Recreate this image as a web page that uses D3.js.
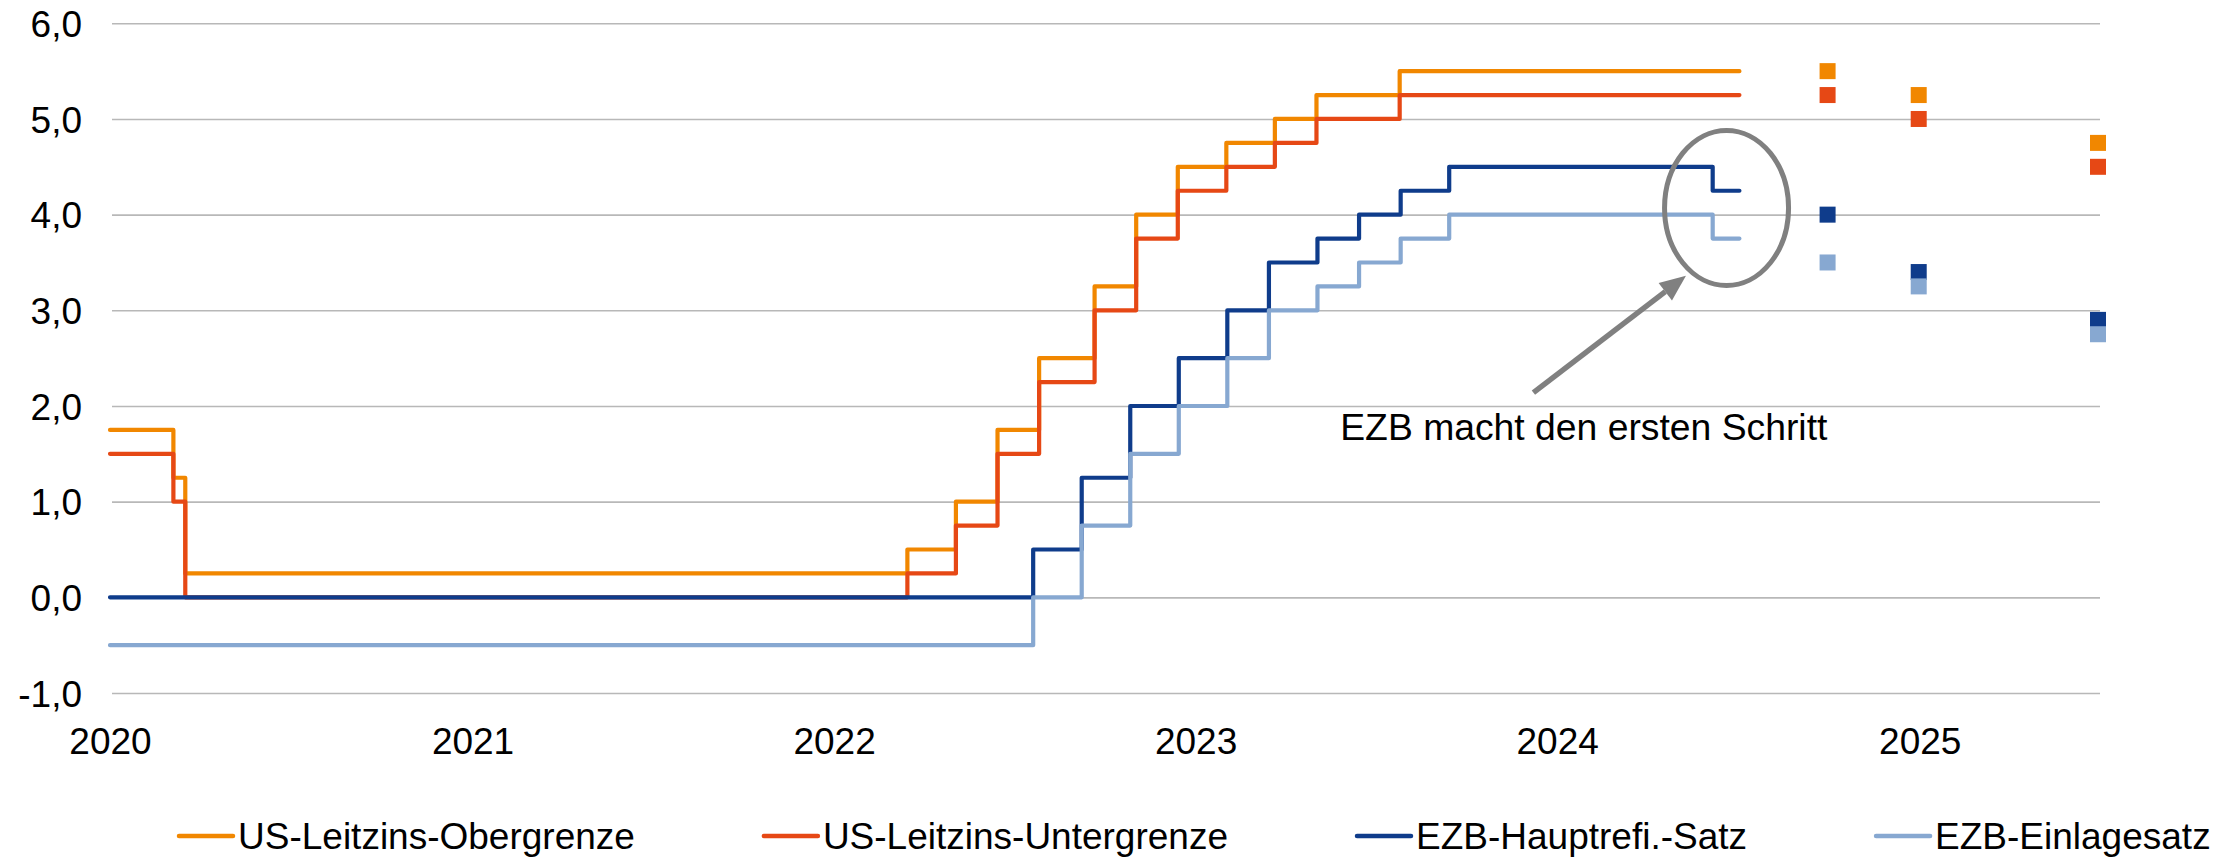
<!DOCTYPE html>
<html lang="de">
<head>
<meta charset="utf-8">
<title>Leitzinsen USA und Eurozone</title>
<script src="https://cdn.jsdelivr.net/npm/d3@7"></script>
<style>
  body { margin: 0; background: #fff; }
  text { font-family: "Liberation Sans", Arial, sans-serif; fill: #000; }
</style>
</head>
<body>
<div id="chart"></div>
<script>
// --- data ---
var seriesNames = ["US-Leitzins-Obergrenze", "US-Leitzins-Untergrenze", "EZB-Hauptrefi.-Satz", "EZB-Einlagesatz"];
var seriesColors = ["#f18700", "#e64815", "#0f3c8b", "#87a8d1"];

// Fed: Entscheidungstermine
var fedDates = ["2020-01-01", "2020-03-05", "2020-03-17", "2022-03-16", "2022-05-04", "2022-06-15",
                "2022-07-27", "2022-09-21", "2022-11-02", "2022-12-14", "2023-02-01", "2023-03-22",
                "2023-05-03", "2023-07-26"];
var fedUpper = [1.75, 1.25, 0.25, 0.5, 1.0, 1.75, 2.5, 3.25, 4.0, 4.5, 4.75, 5.0, 5.25, 5.5];
var fedLower = [1.5, 1.0, 0.0, 0.25, 0.75, 1.5, 2.25, 3.0, 3.75, 4.25, 4.5, 4.75, 5.0, 5.25];

// EZB: Ratssitzungen
var ecbDates = ["2020-01-01", "2022-07-21", "2022-09-08", "2022-10-27", "2022-12-15", "2023-02-02",
                "2023-03-16", "2023-05-04", "2023-06-15", "2023-07-27", "2023-09-14", "2024-06-06"];
var ecbMain = [0.0, 0.5, 1.25, 2.0, 2.5, 3.0, 3.5, 3.75, 4.0, 4.25, 4.5, 4.25];
var ecbDeposit = [-0.5, 0.0, 0.75, 1.5, 2.0, 2.5, 3.0, 3.25, 3.5, 3.75, 4.0, 3.75];

var lastDate = "2024-07-03";

// Prognosen
var forecastDates = ["2024-09-30", "2024-12-31", "2025-06-30"];
var fcUpper = [5.5, 5.25, 4.75];
var fcLower = [5.25, 5.0, 4.5];
var fcMain = [4.0, 3.4, 2.9];
var fcDeposit = [3.5, 3.25, 2.75];

var yearTicks = [2020, 2021, 2022, 2023, 2024, 2025];
var yTicks = [-1, 0, 1, 2, 3, 4, 5, 6];

var noteText = "EZB macht den ersten Schritt";

// --- layout ---
var w = 2239;
var h = 857;
var plotLeft = 110, plotRight = 2100, plotTop = 23.3, plotBottom = 693;

var parse = d3.timeParse("%Y-%m-%d");
var deFormat = d3.formatLocale({decimal: ",", thousands: ".", grouping: [3], currency: ["", " €"], minus: "-"}).format(".1f");

var x = d3.scaleTime()
  .domain([parse("2020-01-01"), parse("2025-06-30")])
  .range([plotLeft, plotRight - 2]);
var y = d3.scaleLinear()
  .domain([-1, 6])
  .range([plotBottom, plotTop]);

var svg = d3.select("#chart")
  .append("svg")
  .attr("width", w)
  .attr("height", h);

svg.append("rect").attr("width", w).attr("height", h).attr("fill", "#fff");

// gridlines + y labels
var yAxis = d3.axisLeft(y)
  .tickValues(yTicks)
  .tickSize(-(plotRight - plotLeft - 2))
  .tickPadding(30)
  .tickFormat(deFormat);

var gy = svg.append("g")
  .attr("transform", "translate(" + (plotLeft + 2) + ",0)")
  .call(yAxis);
gy.select(".domain").remove();
gy.selectAll(".tick line").attr("stroke", "#b8b8b8").attr("stroke-width", 1.6);
gy.selectAll(".tick text").attr("font-size", 37).attr("dy", "0.36em");

// x labels
var xAxis = d3.axisBottom(x)
  .tickValues(yearTicks.map(function(yr) { return new Date(yr, 0, 1); }))
  .tickSize(0)
  .tickPadding(0)
  .tickFormat(d3.timeFormat("%Y"));

var gx = svg.append("g")
  .attr("transform", "translate(0," + plotBottom + ")")
  .call(xAxis);
gx.select(".domain").remove();
gx.selectAll(".tick text").attr("font-size", 37).attr("dy", 0).attr("y", 61);

// build step series
function makeSeries(dates, values) {
  var pts = dates.map(function(d, i) { return {date: parse(d), value: values[i]}; });
  pts.push({date: parse(lastDate), value: values[values.length - 1]});
  return pts;
}

var lines = [
  makeSeries(fedDates, fedUpper),
  makeSeries(fedDates, fedLower),
  makeSeries(ecbDates, ecbMain),
  makeSeries(ecbDates, ecbDeposit)
];

var line = d3.line()
  .x(function(d) { return x(d.date); })
  .y(function(d) { return y(d.value); })
  .curve(d3.curveStepAfter);

svg.append("g").selectAll("path")
  .data(lines)
  .enter()
  .append("path")
  .attr("d", line)
  .attr("fill", "none")
  .attr("stroke", function(d, i) { return seriesColors[i]; })
  .attr("stroke-width", 4.2)
  .attr("stroke-linejoin", "round")
  .attr("stroke-linecap", "round");

// forecast squares
var fcSets = [fcUpper, fcLower, fcMain, fcDeposit];
var sq = 16;
fcSets.forEach(function(vals, si) {
  svg.append("g").selectAll("rect")
    .data(vals)
    .enter()
    .append("rect")
    .attr("x", function(d, i) { return x(parse(forecastDates[i])) - sq / 2; })
    .attr("y", function(d) { return y(d) - sq / 2; })
    .attr("width", sq)
    .attr("height", sq)
    .attr("fill", seriesColors[si]);
});

// annotation: ellipse, arrow, text
var grey = "#808080";
svg.append("ellipse")
  .attr("cx", x(parse("2024-06-20")))
  .attr("cy", y(4.07))
  .attr("rx", 62)
  .attr("ry", 77.5)
  .attr("fill", "none")
  .attr("stroke", grey)
  .attr("stroke-width", 5);

var ax1 = x(parse("2023-12-08")), ay1 = y(2.14);
var ax2 = x(parse("2024-05-10")), ay2 = y(3.36);
var ang = Math.atan2(ay2 - ay1, ax2 - ax1);
var headLen = 26, headW = 11;
var bx = ax2 - headLen * Math.cos(ang), by = ay2 - headLen * Math.sin(ang);

svg.append("line")
  .attr("x1", ax1).attr("y1", ay1)
  .attr("x2", bx).attr("y2", by)
  .attr("stroke", grey)
  .attr("stroke-width", 5.5);

svg.append("polygon")
  .attr("points", [
    [ax2, ay2],
    [bx + headW * Math.sin(ang), by - headW * Math.cos(ang)],
    [bx - headW * Math.sin(ang), by + headW * Math.cos(ang)]
  ].map(function(p) { return p.join(","); }).join(" "))
  .attr("fill", grey);

svg.append("text")
  .attr("x", x(parse("2023-05-27")))
  .attr("y", 440)
  .attr("font-size", 37.3)
  .text(noteText);

// legend
var legend = svg.append("g");
var lx = 179;
seriesNames.forEach(function(name, i) {
  legend.append("line")
    .attr("x1", lx).attr("x2", lx + 54)
    .attr("y1", 836).attr("y2", 836)
    .attr("stroke", seriesColors[i])
    .attr("stroke-width", 4.5)
    .attr("stroke-linecap", "round");
  var t = legend.append("text")
    .attr("x", lx + 59)
    .attr("y", 849)
    .attr("font-size", 37)
    .text(name);
  lx = lx + 59 + t.node().getComputedTextLength() + 129;
});
</script>
</body>
</html>
